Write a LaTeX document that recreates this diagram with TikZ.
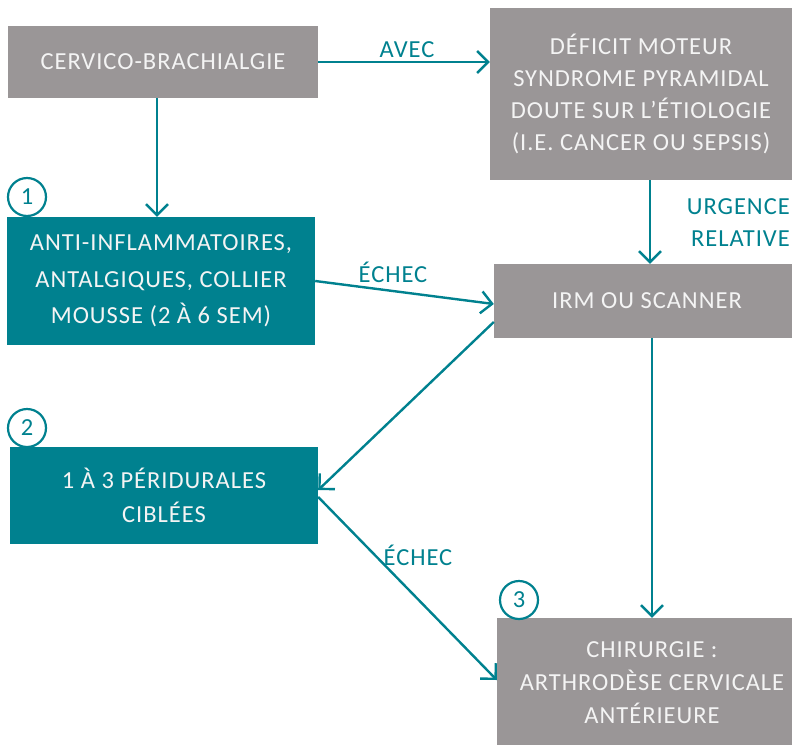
\documentclass[tikz,border=0pt]{standalone}
\usepackage{fontspec}
\setmainfont{Carlito}[LetterSpace=4]
\usetikzlibrary{arrows.meta}
\definecolor{boxgray}{HTML}{9A9697}
\definecolor{teal1}{HTML}{00818F}
\definecolor{txtw}{HTML}{F4F4F4}
\tikzset{
  graybox/.style={fill=boxgray, draw=none, text=txtw, align=center, inner sep=0pt, font=\fontsize{24.5}{32}\selectfont},
  tealbox/.style={fill=teal1, draw=none, text=txtw, align=center, inner sep=0pt, font=\fontsize{24.5}{36.5}\selectfont},
  boxtext/.style={text=txtw, align=center, inner sep=0pt, font=\fontsize{24.5}{33}\selectfont},
  conn/.style={draw=teal1, line width=2.4pt, -{Straight Barb[length=11pt,width=22pt]}},
  lbl/.style={text=teal1, inner sep=0pt, font=\fontsize{24.5}{32}\selectfont},
  numc/.style={circle, draw=teal1, line width=2.2pt, fill=white, minimum size=38pt, inner sep=0pt, text=teal1, font=\fontsize{24.5}{24}\selectfont}
}
\begin{document}
\begin{tikzpicture}[x=1pt,y=-1pt]
\useasboundingbox (0,0) rectangle (795,745);
% boxes
\node[graybox, minimum width=310pt, minimum height=72pt] (A) at (163,62) {CERVICO-BRACHIALGIE};
\node[graybox, minimum width=302pt, minimum height=172pt] (B) at (641,94) {DÉFICIT MOTEUR\\SYNDROME PYRAMIDAL\\DOUTE SUR L’ÉTIOLOGIE\\(I.E. CANCER OU SEPSIS)};
\node[tealbox, minimum width=308pt, minimum height=128pt] (C) at (161,281) {ANTI-INFLAMMATOIRES,\\ANTALGIQUES, COLLIER\\MOUSSE (2 À 6 SEM)};
\node[graybox, minimum width=298pt, minimum height=74pt] (D) at (643,301) {};
\node[boxtext] (Dt) at (647,301) {IRM OU SCANNER};
\node[tealbox, minimum width=308pt, minimum height=97pt, font=\fontsize{24.5}{34}\selectfont] (E) at (164,495.5) {1 À 3 PÉRIDURALES\\CIBLÉES};
\node[graybox, minimum width=295pt, minimum height=127pt] (F) at (644.5,681.5) {};
\node[boxtext] (Ft) at (652,683) {CHIRURGIE :\\ARTHRODÈSE CERVICALE\\ANTÉRIEURE};
% numbers
\node[numc] (n1) at (27,197) {1};
\node[numc] (n2) at (27,428) {2};
\node[numc] (n3) at (519,600) {3};
% connectors
\draw[conn] (A.east) -- (A.east -| B.west);
\draw[conn] ([xshift=-6pt]A.south) -- ([xshift=-6pt]A.south |- C.north);
\draw[conn] ([xshift=9pt]B.south) -- ([xshift=9pt]B.south |- D.north);
\draw[conn] (C.east) -- ([yshift=-3pt]D.west);
\draw[conn] ([yshift=-21pt]D.west) -- ([yshift=5.5pt]E.east);
\draw[conn] ([yshift=-1.5pt]E.east) -- ([yshift=1.5pt]F.west);
\draw[conn] ([xshift=9pt]D.south) -- ([xshift=9pt]D.south |- F.north);
% labels
\node[lbl] (l1) at (407,50) {AVEC};
\node[lbl, align=right, anchor=east] (l2) at (790,223) {URGENCE\\RELATIVE};
\node[lbl] (l3) at (393,272) {ÉCHEC};
\node[lbl] (l4) at (418,555) {ÉCHEC};
\end{tikzpicture}
\end{document}
